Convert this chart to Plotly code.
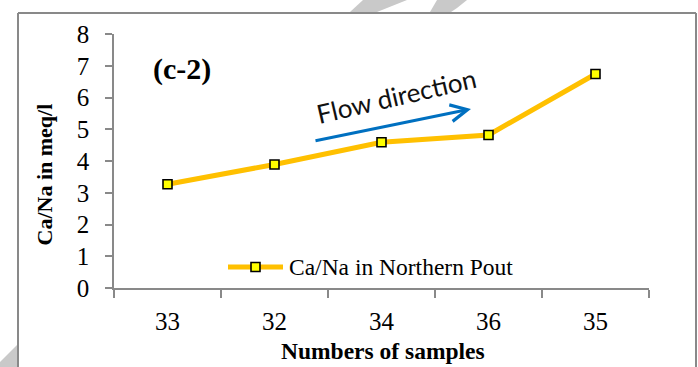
import plotly.graph_objects as go

# Ca/Na ratio along the flow path (samples ordered upstream -> downstream)
samples = ["33", "32", "34", "36", "35"]
ca_na = [3.27, 3.89, 4.59, 4.82, 6.74]
series_name = "Ca/Na in Northern Pout"
y_ticks = [0, 1, 2, 3, 4, 5, 6, 7, 8]

W, H = 698, 367
L, R, T, B = 114, 49, 34, 79
PW, PH = W - L - R, H - T - B


def px(x):
    return (x - L) / PW


def py(y):
    return (H - B - y) / PH


LINE_C = "#FFC000"
MARK_C = "#FFFF00"
AXIS_C = "#898989"
SERIF = "Liberation Serif, Times New Roman, serif"

fig = go.Figure()
fig.add_trace(go.Scatter(
    x=samples, y=ca_na, mode="lines+markers", name=series_name,
    line=dict(color=LINE_C, width=5),
    marker=dict(symbol="square", size=9, color=MARK_C,
                line=dict(color="black", width=1.6)),
    showlegend=False,
))

shapes = []
# outer frame
for x0, y0, x1, y1 in [(18, 13, 696, 13), (18, 13, 18, 367), (696, 13, 696, 367)]:
    shapes.append(dict(type="line", xref="paper", yref="paper",
                       x0=px(x0), y0=py(y0), x1=px(x1), y1=py(y1),
                       line=dict(color=AXIS_C, width=2)))


def poly(points, color="#c9c9c9"):
    d = "M " + " L ".join(f"{px(a)},{py(b)}" for a, b in points) + " Z"
    return dict(type="path", xref="paper", yref="paper", path=d,
                fillcolor=color, line=dict(width=0), layer="below")


# faint background stamp fragments
shapes.append(poly([(350, 12), (363, 0), (407, 0), (377, 12)]))
shapes.append(poly([(430, 12), (437, 0), (467, 0), (457, 8), (451, 12)]))
shapes.append(poly([(0, 362), (17, 345), (17, 367), (0, 367)]))

# legend key
leg_y = 267
shapes.append(dict(type="line", xref="paper", yref="paper",
                   x0=px(228), y0=py(leg_y), x1=px(283), y1=py(leg_y),
                   line=dict(color=LINE_C, width=5)))
shapes.append(dict(type="rect", xref="paper", yref="paper",
                   x0=px(251), y0=py(leg_y - 4.5), x1=px(260), y1=py(leg_y + 4.5),
                   fillcolor=MARK_C, line=dict(color="black", width=1.6)))

annotations = [
    dict(text=series_name, xref="paper", yref="paper", x=px(287), y=py(leg_y),
         xanchor="left", yanchor="middle", showarrow=False,
         font=dict(family=SERIF, size=23.5, color="black")),
    dict(text="<b>(c-2)</b>", xref="paper", yref="paper", x=px(182), y=py(69),
         xanchor="center", yanchor="middle", showarrow=False,
         font=dict(family=SERIF, size=30, color="black")),
    dict(text="<b>Ca/Na in meq/l</b>", xref="paper", yref="paper",
         x=px(43.5), y=py(175), textangle=-90, xanchor="center", yanchor="middle",
         showarrow=False, font=dict(family=SERIF, size=22, color="black")),
    dict(text="<b>Numbers of samples</b>", xref="paper", yref="paper",
         x=px(383), y=py(351), xanchor="center", yanchor="middle",
         showarrow=False, font=dict(family=SERIF, size=23.5, color="black")),
    dict(text="Flow direction", xref="paper", yref="paper",
         x=px(396), y=py(96), xanchor="center", yanchor="middle", textangle=-13,
         showarrow=False, font=dict(family="Lato, sans-serif", size=26, color="#111")),
    dict(text="", xref="paper", yref="paper", x=px(471), y=py(109),
         ax=314 - 471, ay=141 - 109, showarrow=True, arrowhead=5,
         arrowsize=1.1, arrowwidth=3, arrowcolor="#0070C0"),
]

fig.update_layout(
    width=W, height=H,
    margin=dict(l=L, r=R, t=T, b=B),
    paper_bgcolor="white", plot_bgcolor="white",
    shapes=shapes, annotations=annotations,
    showlegend=False,
    xaxis=dict(type="category", range=[-0.5, len(samples) - 0.5],
               tickson="boundaries", ticks="outside", ticklen=8,
               tickcolor=AXIS_C, tickwidth=1.5, showline=True, linecolor=AXIS_C,
               linewidth=1.5, showgrid=False, zeroline=False,
               tickfont=dict(family=SERIF, size=25, color="black"),
               ticklabelstandoff=10),
    yaxis=dict(range=[0, 8], tickvals=y_ticks, ticks="outside", ticklen=7,
               tickcolor=AXIS_C, tickwidth=1.5, showline=True, linecolor=AXIS_C,
               linewidth=1.5, showgrid=False, zeroline=False,
               tickfont=dict(family=SERIF, size=25, color="black"),
               ticklabelstandoff=11),
)

fig.write_html("out.html")
